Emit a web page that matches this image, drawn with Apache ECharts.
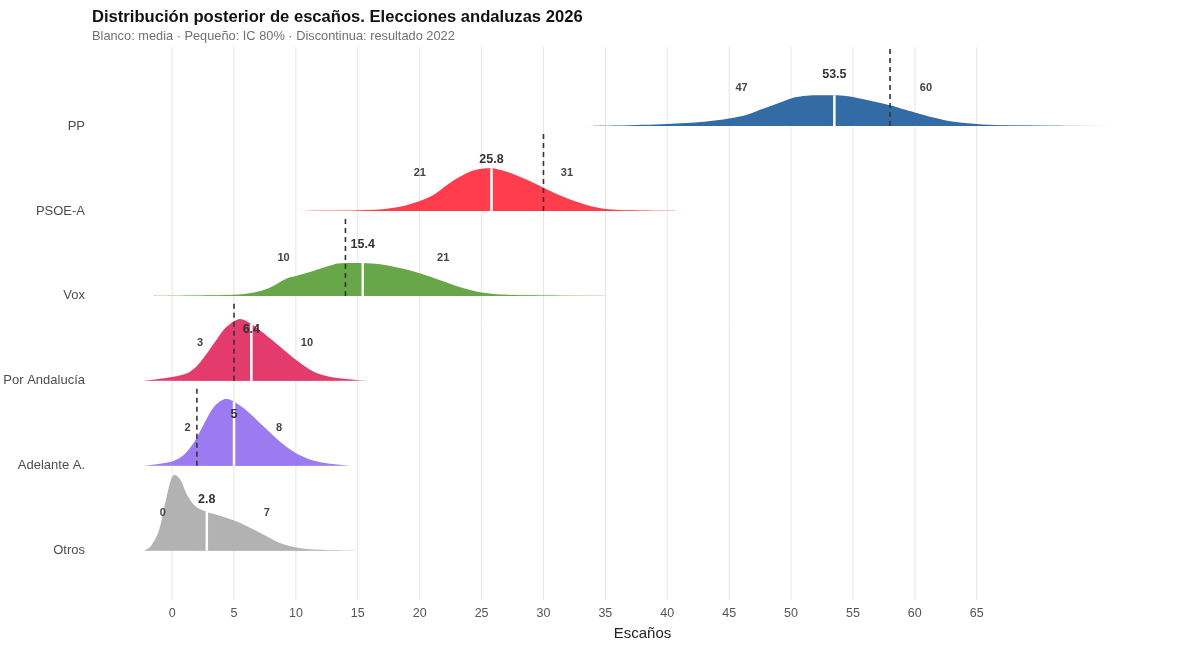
<!DOCTYPE html>
<html>
<head>
<meta charset="utf-8">
<title>Distribución posterior de escaños</title>
<script src="https://cdn.jsdelivr.net/npm/echarts@6/dist/echarts.min.js"></script>
<style>
  html, body { margin:0; padding:0; background:#fff; }
  #main { width:1200px; height:646px; }
</style>
</head>
<body>
<div id="main"></div>
<script>
// datos
var parties = ['PP', 'PSOE-A', 'Vox', 'Por Andalucía', 'Adelante A.', 'Otros'];
var means = [53.5, 25.8, 15.4, 6.4, 5, 2.8];
var ciLow = [47, 21, 10, 3, 2, 0];
var ciHigh = [60, 31, 21, 10, 8, 7];
var result2022 = [58, 30, 14, 5, 2, null];
var xTicks = [0, 5, 10, 15, 20, 25, 30, 35, 40, 45, 50, 55, 60, 65];

// densidades (altura en unidades de fila)
var ppX = [33, 36, 40, 43, 45, 46.5, 47.5, 49, 50, 51, 52, 53.5, 54.5, 55, 56.5, 58, 59, 60, 61.5, 63, 65, 67, 70, 76];
var ppH = [0, .006, .024, .05, .088, .135, .19, .27, .325, .352, .361, .361, .353, .341, .294, .244, .2, .16, .1, .054, .024, .009, .004, 0];
var psoeX = [10, 13, 15, 17, 18.5, 20, 21.1, 22.2, 23.2, 24.2, 25.3, 26, 27.1, 28.7, 30, 31.6, 33.5, 35, 37, 41];
var psoeH = [0, .002, .006, .021, .053, .118, .188, .306, .4, .471, .502, .5, .459, .365, .274, .168, .071, .024, .008, 0];
var voxX = [-1.5, 2, 5, 6.6, 7.8, 9.3, 10, 11.4, 12.5, 13.4, 14.5, 15.4, 16.8, 18.5, 20, 21.6, 23.3, 25, 27, 30, 35];
var voxH = [0, .004, .012, .039, .091, .208, .235, .294, .345, .382, .388, .388, .373, .326, .267, .188, .102, .039, .012, .004, 0];
var paX = [-2.3, 0, 1.35, 2.3, 3.4, 4.2, 4.9, 5.5, 6.3, 7.4, 8.7, 10, 11.4, 12.8, 15, 16];
var paH = [0, .044, .098, .224, .444, .608, .694, .729, .679, .561, .404, .247, .109, .044, .008, 0];
var adX = [-2.3, 0, 0.95, 1.8, 2.6, 3.4, 4.3, 5, 6.1, 7.4, 8.7, 10, 11.4, 12.8, 14.4];
var adH = [0, .051, .129, .286, .502, .698, .788, .756, .639, .462, .286, .149, .062, .024, 0];
var otX = [-2.3, -1.75, -1.1, -0.5, -0.1, 0.2, 0.67, 1.2, 1.9, 2.7, 3.6, 5, 6.1, 7.4, 8.7, 10, 11.7, 15.5];
var otH = [0, .051, .224, .6, .835, .894, .835, .659, .521, .462, .424, .356, .286, .188, .091, .039, .012, 0];

var densX = [ppX, psoeX, voxX, paX, adX, otX];
var densH = [ppH, psoeH, voxH, paH, adH, otH];

var colors = ['#336ba5', '#ff3d4d', '#68a64a', '#e33b6b', '#9b7bef', '#b2b2b2'];
var FONT = 'Liberation Sans, Arial, sans-serif';

function rowOf(i) { return parties.length - 1 - i; }

function heightAt(xs, hs, v) {
    for (var k = 1; k < xs.length; k++) {
        if (v <= xs[k]) {
            var t = (v - xs[k - 1]) / (xs[k] - xs[k - 1]);
            return hs[k - 1] + t * (hs[k] - hs[k - 1]);
        }
    }
    return 0;
}

function fade(c, a1) {
    var r = parseInt(c.slice(1, 3), 16), g = parseInt(c.slice(3, 5), 16), b = parseInt(c.slice(5, 7), 16);
    var s = function (a) { return 'rgba(' + r + ',' + g + ',' + b + ',' + a + ')'; };
    return new echarts.graphic.LinearGradient(0, 0, 1, 0, [
        {offset: 0, color: s(0)},
        {offset: 0.3, color: s(a1)},
        {offset: 0.7, color: s(a1)},
        {offset: 1, color: s(0)}
    ]);
}

var chart = echarts.init(document.getElementById('main'));

var option = {
    animation: false,
    backgroundColor: '#fff',
    title: {
        text: 'Distribución posterior de escaños. Elecciones andaluzas 2026',
        subtext: 'Blanco: media · Pequeño: IC 80% · Discontinua: resultado 2022',
        left: 87,
        top: 4,
        itemGap: 4,
        textStyle: {fontFamily: FONT, fontSize: 16.6, fontWeight: 'bold', color: '#111'},
        subtextStyle: {fontFamily: FONT, fontSize: 12.8, color: '#707070'}
    },
    grid: {left: 135, right: 50, top: 47, bottom: 46},
    xAxis: {
        type: 'value',
        min: -3,
        max: 79,
        name: 'Escaños',
        nameLocation: 'middle',
        nameGap: 26,
        nameTextStyle: {fontFamily: FONT, fontSize: 15, color: '#222'},
        axisLine: {show: false},
        axisTick: {show: false},
        splitLine: {show: false},
        axisLabel: {customValues: xTicks, color: '#555', fontSize: 12.5, fontFamily: FONT, margin: 7}
    },
    yAxis: {
        type: 'value',
        min: -0.58,
        max: 5.93,
        axisLine: {show: false},
        axisTick: {show: false},
        splitLine: {show: false},
        axisLabel: {
            customValues: [0, 1, 2, 3, 4, 5],
            margin: 50,
            color: '#4d4d4d',
            fontSize: 13,
            fontFamily: FONT,
            formatter: function (v) { return parties[parties.length - 1 - v]; }
        }
    },
    series: [
        {
            // lineas de cuadricula
            type: 'custom',
            silent: true,
            z: 1,
            data: xTicks.map(function (v) { return [v, 0]; }),
            renderItem: function (params, api) {
                var cs = params.coordSys;
                var x = api.coord([api.value(0), 0])[0];
                return {
                    type: 'line',
                    shape: {x1: x, y1: cs.y, x2: x, y2: cs.y + cs.height},
                    style: {stroke: '#e6e6e6', lineWidth: 1}
                };
            }
        },
        {
            type: 'custom',
            silent: true,
            z: 2,
            clip: false,
            data: parties.map(function (p, i) { return [means[i], rowOf(i)]; }),
            renderItem: function (params, api) {
                var i = params.dataIndex;
                var row = rowOf(i);
                var xs = densX[i], hs = densH[i];
                var pts = [];
                var minX = Infinity, maxX = -Infinity, minY = Infinity, maxY = -Infinity;
                for (var k = 0; k < xs.length; k++) {
                    var p = api.coord([xs[k], row + hs[k]]);
                    pts.push(p);
                    minX = Math.min(minX, p[0]); maxX = Math.max(maxX, p[0]);
                    minY = Math.min(minY, p[1]); maxY = Math.max(maxY, p[1]);
                }
                var b0 = api.coord([xs[0], row]);
                var b1 = api.coord([xs[xs.length - 1], row]);
                var children = [];
                children.push({
                    type: 'line',
                    shape: {x1: b0[0], y1: b0[1] - 0.5, x2: b1[0], y2: b1[1] - 0.5},
                    style: {stroke: fade(colors[i], 0.6), lineWidth: 1.2}
                });
                children.push({
                    type: 'polygon',
                    shape: {points: pts, smooth: 0.3, smoothConstraint: [[minX, minY], [maxX, maxY]]},
                    style: {fill: colors[i]}
                });
                var m0 = api.coord([means[i], row]);
                var m1 = api.coord([means[i], row + heightAt(xs, hs, means[i])]);
                children.push({
                    type: 'line',
                    shape: {x1: m0[0], y1: m0[1], x2: m1[0], y2: m1[1]},
                    style: {stroke: '#fff', lineWidth: 2.5}
                });
                if (result2022[i] !== null) {
                    var r0 = api.coord([result2022[i], row]);
                    var r1 = api.coord([result2022[i], row + 0.93]);
                    children.push({
                        type: 'line',
                        shape: {x1: r0[0], y1: r0[1], x2: r1[0], y2: r1[1]},
                        style: {stroke: '#333', lineWidth: 1.6, lineDash: [5, 4]}
                    });
                }
                var ml = api.coord([means[i], row + 0.6]);
                children.push({
                    type: 'text',
                    x: ml[0], y: ml[1],
                    style: {text: String(means[i]), fill: '#333', fontSize: 12.5, fontWeight: 'bold',
                        fontFamily: FONT, align: 'center', verticalAlign: 'middle'}
                });
                var lo = api.coord([ciLow[i] - 0.5, row + 0.447]);
                children.push({
                    type: 'text',
                    x: lo[0], y: lo[1],
                    style: {text: String(ciLow[i]), fill: '#444', fontSize: 11, fontWeight: 'bold',
                        fontFamily: FONT, align: 'right', verticalAlign: 'middle'}
                });
                var hi = api.coord([ciHigh[i] + 0.4, row + 0.447]);
                children.push({
                    type: 'text',
                    x: hi[0], y: hi[1],
                    style: {text: String(ciHigh[i]), fill: '#444', fontSize: 11, fontWeight: 'bold',
                        fontFamily: FONT, align: 'left', verticalAlign: 'middle'}
                });
                return {type: 'group', children: children};
            }
        }
    ]
};

chart.setOption(option);
window.onresize = chart.resize;
</script>
</body>
</html>
